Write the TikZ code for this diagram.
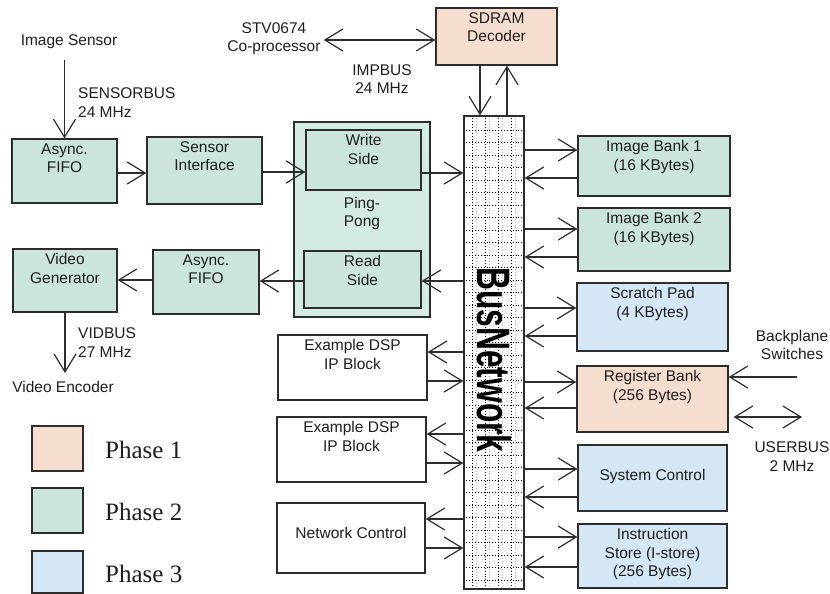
\documentclass[tikz,border=0pt]{standalone}
\usepackage{fontspec}
\setmainfont{Liberation Sans}
\newfontfamily\legfont{Liberation Serif}
\usetikzlibrary{arrows.meta}
\definecolor{phaseone}{RGB}{245,222,208}
\definecolor{phasetwo}{RGB}{204,229,220}
\definecolor{phasethree}{RGB}{213,231,245}
\definecolor{pingcol}{RGB}{212,234,229}
\definecolor{edgecol}{RGB}{45,45,45}
\definecolor{txtcol}{RGB}{30,30,30}
\tikzset{
  sz/.style 2 args={minimum width=#1pt,minimum height=#2pt},
  box/.style={draw=edgecol,line width=1.3pt,inner sep=0pt},
  lbl/.style={anchor=north,align=center,inner sep=5pt,font=\fontsize{15.5}{18.5}\selectfont,text=txtcol},
  txt/.style={align=center,inner sep=0pt,font=\fontsize{15.5}{18.5}\selectfont,text=txtcol},
  tip/.tip={Straight Barb[length=18pt,width=22pt,line width=1.2pt]},
  arr/.style={-tip,line width=1.1pt,draw=edgecol},
  arrs/.style={tip-tip,line width=1.1pt,draw=edgecol},
}
\begin{document}
\begin{tikzpicture}[x=1pt,y=-1pt]
  \useasboundingbox (0,0) rectangle (830,594);
  % Ping-Pong buffer
  \node[box,fill=pingcol,sz={136}{195},label={[lbl,anchor=center,yshift=6pt]center:Ping-\\Pong}] (ping) at (362,219.5) {};
  \node[box,fill=phasetwo,sz={115}{60},label={[lbl]north:Write\\Side}] (write) at (363.5,160) {};
  \node[box,fill=phasetwo,sz={117}{57},label={[lbl]north:Read\\Side}] (read) at (362.5,279.5) {};
  % sensor side
  \node[box,fill=phasetwo,sz={105}{64},label={[lbl]north:Async.\\FIFO}] (fifoA) at (64.5,171) {};
  \node[box,fill=phasetwo,sz={115}{67},label={[lbl]north:Sensor\\Interface}] (sensif) at (204.5,170.5) {};
  % video side
  \node[box,fill=phasetwo,sz={106}{64},label={[lbl]north:Async.\\FIFO}] (fifoB) at (206,282) {};
  \node[box,fill=phasetwo,sz={104}{63},label={[lbl]north:Video\\Generator}] (vidgen) at (65,280.5) {};
  % SDRAM
  \node[box,fill=phaseone,sz={121}{57},label={[lbl]north:SDRAM\\Decoder}] (sdram) at (496.5,36.5) {};
  % DSP blocks
  \node[box,fill=white,sz={149}{65},label={[lbl]north:Example DSP\\IP Block}] (dspA) at (352.5,367.5) {};
  \node[box,fill=white,sz={149}{65},label={[lbl]north:Example DSP\\IP Block}] (dspB) at (351.5,449.5) {};
  \node[box,fill=white,sz={148}{70},label={[lbl,anchor=center,yshift=5pt]center:Network Control}] (netctl) at (351,538) {};
  % memories
  \node[box,fill=phasetwo,sz={152}{60},label={[lbl]north:Image Bank 1\\(16 KBytes)}] (bankA) at (654,166) {};
  \node[box,fill=phasetwo,sz={152}{63},label={[lbl]north:Image Bank 2\\(16 KBytes)}] (bankB) at (654,239.5) {};
  \node[box,fill=phasethree,sz={151}{68},label={[lbl]north:Scratch Pad\\(4 KBytes)}] (scratch) at (652.5,317) {};
  \node[box,fill=phaseone,sz={151}{66},label={[lbl]north:Register Bank\\(256 Bytes)}] (regbank) at (652.5,399) {};
  \node[box,fill=phasethree,sz={149}{66},label={[lbl,anchor=center,yshift=2pt]center:System Control}] (sysctl) at (652.5,478) {};
  \node[box,fill=phasethree,sz={149}{64},label={[lbl,anchor=center,yshift=2pt]center:Instruction\\Store (I-store)\\(256 Bytes)}] (istore) at (652.5,556) {};
  % bus network
  \node[box,fill=white,sz={60}{473}] (bus) at (494,352.5) {};
  \foreach \x in {476,489,502,515}
    \draw[gray!55,dotted,line width=0.8pt] (bus.north -| \x,0) -- (bus.south -| \x,0);
  \foreach \x in {472,485,498,511}
    \draw[dotted,line width=0.9pt] (bus.north -| \x,0) -- (bus.south -| \x,0);
  \foreach \y in {130,142.5,...,585}
    \draw[dotted,line width=0.9pt] (bus.west |- 0,\y) -- (bus.east |- 0,\y);
  \node[box,sz={60}{473}] at (bus.center) {};
  \node[rotate=-90,inner sep=0pt] (bustxt) at (494,360) {\resizebox{185pt}{34pt}{\bfseries BusNetwork}};
  % texts
  \node[txt] (imgsens) at (69,42) {Image Sensor};
  \node[txt,anchor=west,align=left] (sensbus) at (78,102.5) {SENSORBUS\\24 MHz};
  \node[txt,inner sep=3pt] (coproc) at (274,38.5) {STV0674\\Co-processor};
  \node[txt] (impbus) at (382,79) {IMPBUS\\24 MHz};
  \node[txt,anchor=west,align=left] (vidbus) at (78,342.5) {VIDBUS\\27 MHz};
  \node[txt] (venc) at (63,387) {Video Encoder};
  \node[txt] (bps) at (792,345) {Backplane\\Switches};
  \node[txt] (userbus) at (792,456.5) {USERBUS\\2 MHz};
  % data path arrows
  \draw[arr] (fifoA.north |- 0,60) -- (fifoA.north);
  \draw[arr] (fifoA.east |- 0,173) -- (sensif.west |- 0,173);
  \draw[arr] (sensif.east |- 0,172) -- (write.west |- 0,172);
  \draw[arr] (write.east |- 0,173) -- (bus.west |- 0,173);
  \draw[arr] (bus.west |- 0,281) -- (read.east |- 0,281);
  \draw[arr] (read.west |- 0,281) -- (fifoB.east |- 0,281);
  \draw[arr] (fifoB.west |- 0,280) -- (vidgen.east |- 0,280);
  \draw[arr] (vidgen.south) -- (vidgen.south |- 0,373);
  \draw[arrs] (coproc.east |- 0,40) -- (sdram.west |- 0,40);
  \draw[arr] (sdram.south -| 480,0) -- (bus.north -| 480,0);
  \draw[arr] (bus.north -| 507,0) -- (sdram.south -| 507,0);
  % bus ports
  \foreach \n/\a/\b in {dspA/352/381,dspB/434/463,netctl/519/548}{
    \draw[arr] (bus.west |- 0,\a) -- (\n.east |- 0,\a);
    \draw[arr] (\n.east |- 0,\b) -- (bus.west |- 0,\b);
  }
  \foreach \n/\a/\b in {bankA/150/178,bankB/229/257,scratch/308/336,regbank/382/408,sysctl/469/497,istore/537/567}{
    \draw[arr] (bus.east |- 0,\a) -- (\n.west |- 0,\a);
    \draw[arr] (\n.west |- 0,\b) -- (bus.east |- 0,\b);
  }
  % backplane, userbus
  \coordinate (bpin) at (797,377);
  \draw[arr] (bpin) -- (regbank.east |- bpin);
  \coordinate (ubus) at (802,417);
  \draw[arrs] (regbank.east |- ubus) ++(5,0) -- (ubus);
  % legend
  \node[box,fill=phaseone,sz={51}{45}] (leg1) at (57.5,448.5) {};
  \node[box,fill=phasetwo,sz={51}{45}] (leg2) at (57.5,510.5) {};
  \node[box,fill=phasethree,sz={51}{42}] (leg3) at (57.5,572) {};
  \node[anchor=west,inner sep=0pt,font=\legfont\fontsize{25}{30}\selectfont,text=txtcol] (legt1) at (105,450) {Phase 1};
  \node[anchor=west,inner sep=0pt,font=\legfont\fontsize{25}{30}\selectfont,text=txtcol] (legt2) at (105,512) {Phase 2};
  \node[anchor=west,inner sep=0pt,font=\legfont\fontsize{25}{30}\selectfont,text=txtcol] (legt3) at (105,574) {Phase 3};
\end{tikzpicture}
\end{document}
